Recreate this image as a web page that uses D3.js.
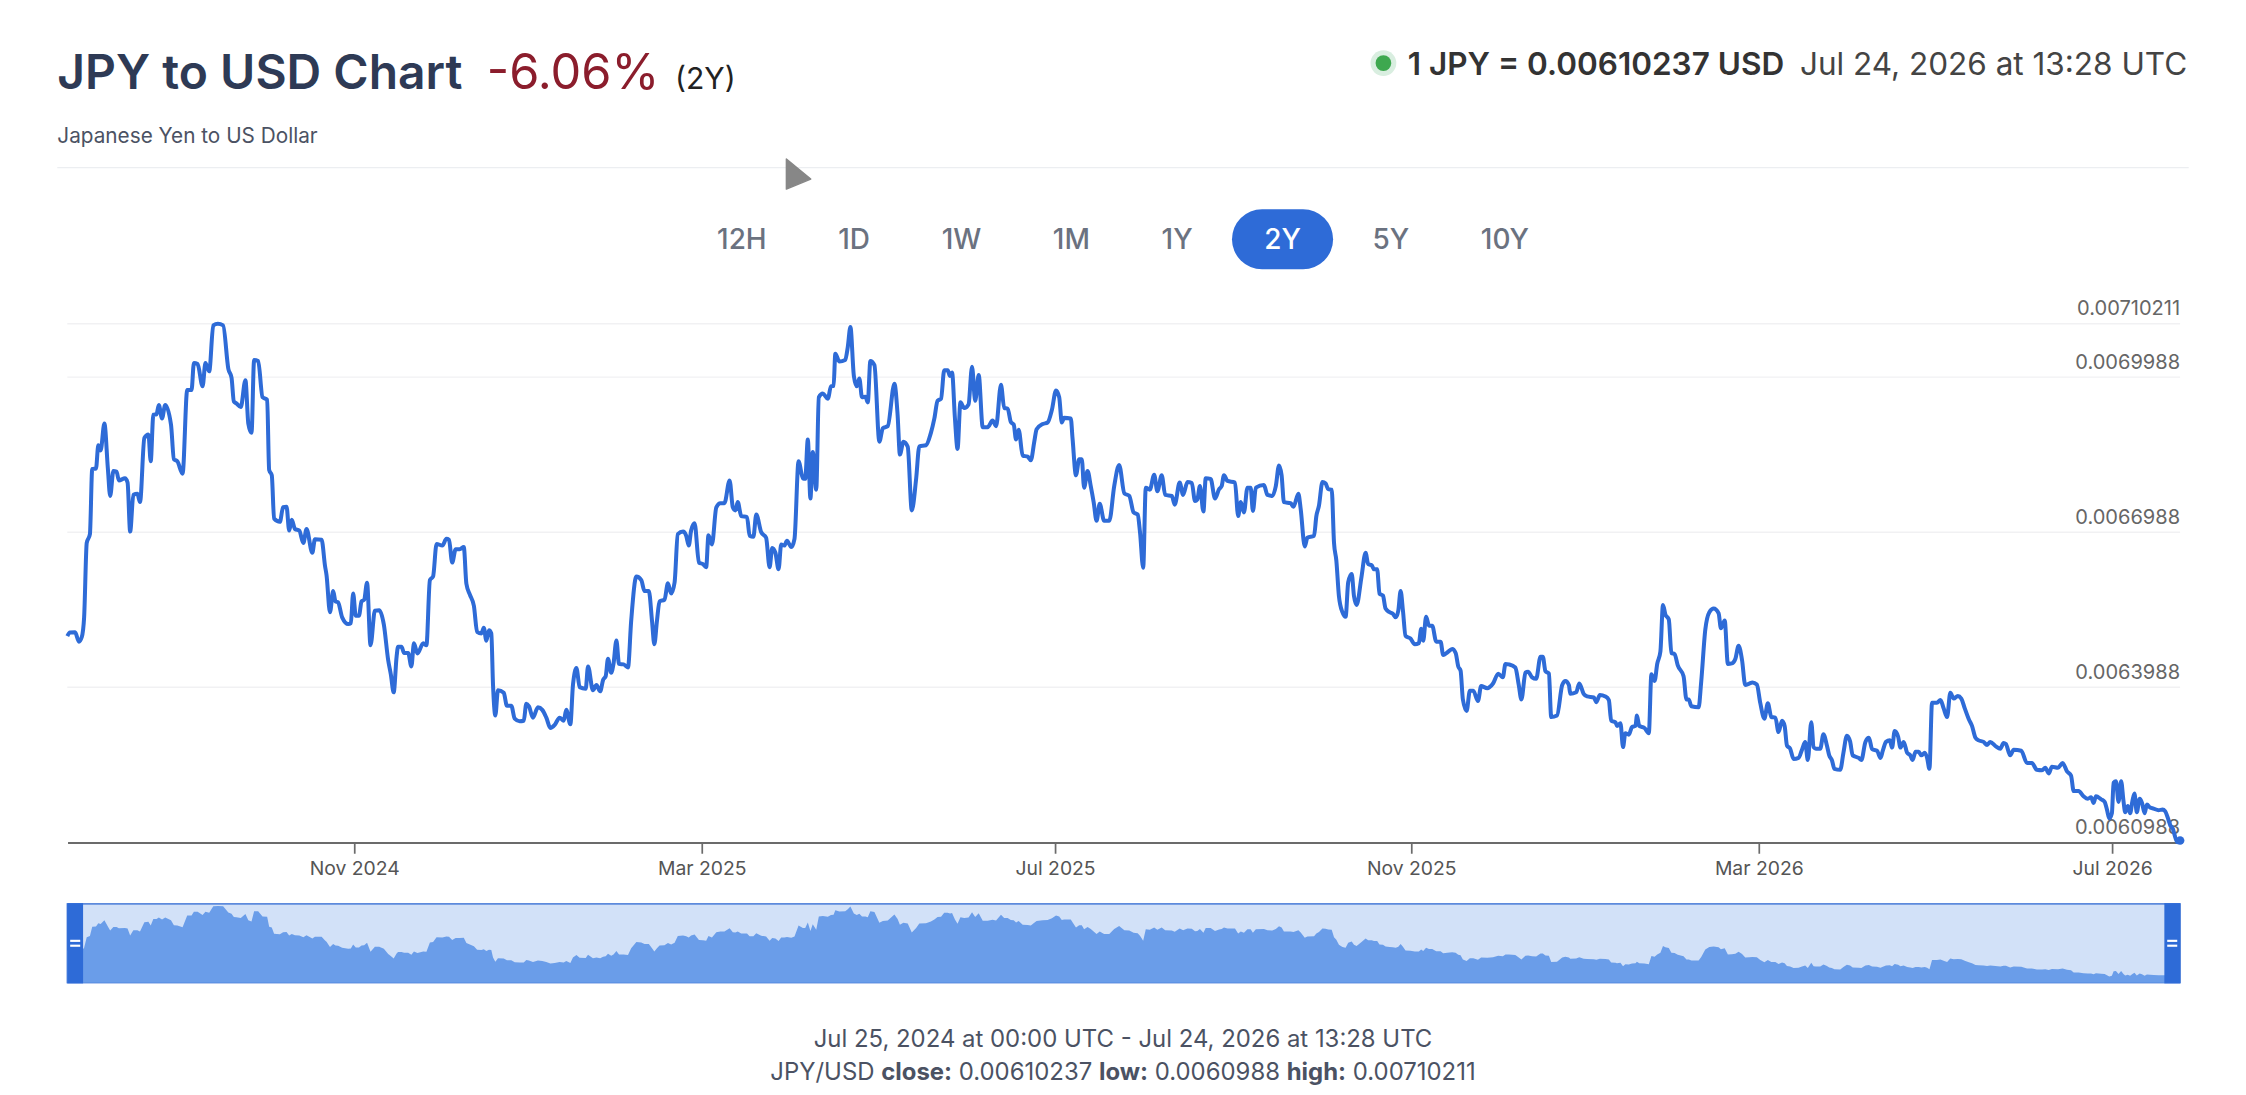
<!DOCTYPE html>
<html>
<head>
<meta charset="utf-8">
<script src="https://cdn.jsdelivr.net/npm/d3@7"></script>
<style>
html, body { margin: 0; padding: 0; background: #fff; }
svg { display: block; font-family: Inter, "Noto Sans", sans-serif; }
</style>
</head>
<body>
<svg id="chart" width="2246" height="1095"></svg>
<script>
"use strict";

var startDate = "2024-07-25T00:00:00Z";
var endDate = "2026-07-24T13:28:00Z";

// [days since Jul 25 2024, JPY in USD]
var ratesA = [
    [0, 0.0064979], [0.9, 0.0065048], [2.7, 0.006505], [4.0, 0.006487], [5.0, 0.006496], [5.8, 0.006534],
    [6.7, 0.006678], [7.8, 0.006695], [8.6, 0.006821], [9.9, 0.006822], [10.7, 0.006867], [11.5, 0.006857],
    [12.8, 0.006909], [14.0, 0.006822], [14.8, 0.006769], [15.9, 0.006817], [17.0, 0.006816], [17.8, 0.006799],
    [19.9, 0.006803], [20.8, 0.006795], [21.7, 0.0067], [22.8, 0.006771], [24.2, 0.006773], [25.1, 0.006757],
    [26.6, 0.006881], [28.0, 0.006888], [28.8, 0.006836], [29.7, 0.006926], [30.8, 0.006927], [31.6, 0.006945],
    [32.7, 0.006919], [33.8, 0.006945], [35.8, 0.006907], [36.8, 0.00684], [38.0, 0.006836], [39.8, 0.006812],
    [41.4, 0.006974], [42.9, 0.006974], [43.7, 0.007026], [45.0, 0.007024], [46.7, 0.006981], [47.7, 0.007026],
    [49.0, 0.00701], [50.4, 0.007099], [52.0, 0.00710211], [53.8, 0.007099], [55.6, 0.007015], [56.7, 0.006998],
    [57.5, 0.006952], [58.4, 0.006948], [59.9, 0.006941], [61.5, 0.006993], [62.5, 0.006909], [63.6, 0.006891],
    [64.5, 0.007032], [65.9, 0.00703], [67.4, 0.00696], [69.0, 0.006955], [69.7, 0.006819], [70.6, 0.006809],
    [71.4, 0.006725], [73.4, 0.006719], [74.5, 0.006747], [75.7, 0.006748], [76.6, 0.006702], [77.5, 0.006723],
    [78.6, 0.006705], [80.1, 0.006702], [81.5, 0.006678], [82.6, 0.006705], [84.6, 0.006659], [85.5, 0.006685],
    [87.8, 0.006684], [89.0, 0.006633], [89.5, 0.006616], [90.7, 0.006544], [91.8, 0.006585], [92.6, 0.006565],
    [93.5, 0.006563], [94.9, 0.006534], [97.0, 0.006521], [97.9, 0.006523], [98.7, 0.00658], [99.6, 0.006537],
    [100.7, 0.006537], [101.6, 0.006565], [102.5, 0.006568], [103.5, 0.006601], [104.7, 0.00648], [106.2, 0.006547],
    [107.7, 0.006548], [109.3, 0.00652], [110.8, 0.006451], [111.7, 0.006424], [112.7, 0.006389], [113.7, 0.006458],
    [114.2, 0.006477], [115.4, 0.006477], [116.3, 0.006465], [117.7, 0.006465], [118.8, 0.006439], [119.7, 0.006484],
    [120.9, 0.006464]
];
var ratesB = [
    [122.9, 0.006484], [124.0, 0.00648], [125.2, 0.006606], [126.3, 0.006613], [127.5, 0.006676], [129.5, 0.006673],
    [130.9, 0.006686], [131.8, 0.006684], [132.9, 0.00664], [134.1, 0.006666], [135.5, 0.006666], [136.9, 0.00667],
    [137.8, 0.006599], [139.0, 0.006578], [140.4, 0.006556], [141.5, 0.006506], [143.0, 0.006503], [143.8, 0.006514],
    [144.7, 0.006489], [145.6, 0.006509], [146.4, 0.006503], [147.0, 0.006403], [147.8, 0.006344], [148.7, 0.006393],
    [150.7, 0.006388], [151.8, 0.006363], [153.3, 0.006363], [154.5, 0.006338], [156.2, 0.006333], [157.6, 0.006334],
    [158.5, 0.006367], [159.4, 0.006362], [160.8, 0.00634], [162.5, 0.00636], [164.0, 0.006355], [165.4, 0.00634],
    [166.8, 0.00632], [168.3, 0.006326], [170.0, 0.00634], [171.4, 0.006334], [172.3, 0.006355], [173.7, 0.006327],
    [174.6, 0.006403], [175.8, 0.006436], [176.9, 0.006399], [179.0, 0.006396], [179.8, 0.006439], [181.5, 0.006393],
    [182.7, 0.006403], [184.0, 0.006391], [185.0, 0.006413], [185.9, 0.00642], [186.7, 0.006454], [187.8, 0.006427],
    [188.6, 0.006444], [189.6, 0.006489], [190.5, 0.006444], [192.1, 0.006443], [193.6, 0.006437], [194.7, 0.006527],
    [196.5, 0.006613], [198.2, 0.006606], [199.3, 0.006585], [200.8, 0.006585], [201.9, 0.006527], [202.7, 0.006482],
    [203.6, 0.006527], [204.5, 0.006565], [206.2, 0.006568], [207.4, 0.0066], [208.5, 0.00658], [209.7, 0.006602],
    [210.8, 0.006695], [212.6, 0.0067], [213.7, 0.006692], [214.6, 0.006673], [215.4, 0.006702], [216.6, 0.006716],
    [218.1, 0.00664], [219.5, 0.006637], [220.6, 0.006631], [221.4, 0.006693], [222.6, 0.006675], [224.1, 0.006747],
    [225.5, 0.006755], [226.9, 0.006755], [228.7, 0.006799], [229.8, 0.006747], [230.7, 0.006741], [231.5, 0.006757],
    [232.7, 0.00673], [234.7, 0.006728], [235.6, 0.006692], [236.9, 0.00669], [237.9, 0.006733], [239.6, 0.006699],
    [241.3, 0.006688], [242.5, 0.006631], [243.4, 0.006668], [244.5, 0.006659], [245.6, 0.006627], [246.5, 0.006675],
    [247.6, 0.006673], [248.5, 0.006682], [250.0, 0.00667], [251.1, 0.006686]
];
var ratesC = [
    [252.5, 0.006836], [254.0, 0.006803], [254.8, 0.006802], [255.7, 0.006878], [256.6, 0.006764], [257.4, 0.006854],
    [258.6, 0.006781], [259.5, 0.00696], [260.9, 0.006967], [262.6, 0.006957], [263.7, 0.006981], [264.6, 0.006982],
    [265.2, 0.007044], [266.6, 0.007029], [268.6, 0.007032], [269.5, 0.007057], [270.4, 0.007096], [271.6, 0.007001],
    [272.6, 0.006981], [273.5, 0.006996], [274.4, 0.00696], [275.6, 0.006961], [276.4, 0.00695], [277.3, 0.00703],
    [278.7, 0.007022], [280.4, 0.006874], [281.6, 0.0069], [283.3, 0.006904], [285.6, 0.006986], [286.7, 0.006926],
    [287.5, 0.006849], [288.7, 0.006874], [290.2, 0.006864], [291.6, 0.006741], [293.1, 0.006802], [294.2, 0.006865],
    [296.5, 0.006867], [298.2, 0.006891], [299.4, 0.006919], [300.5, 0.006953], [301.7, 0.006957], [302.8, 0.007012],
    [304.0, 0.007012], [304.8, 0.007001], [305.5, 0.007008], [306.5, 0.006919], [307.4, 0.00686], [308.4, 0.00695],
    [309.7, 0.006939], [311.2, 0.006946], [312.4, 0.007019], [313.5, 0.006953], [314.7, 0.007003], [316.1, 0.006902],
    [317.8, 0.006902], [319.5, 0.006915], [320.7, 0.006904], [322.4, 0.006984], [323.5, 0.006939], [324.7, 0.006938],
    [325.8, 0.006912], [326.8, 0.006907], [327.6, 0.006878], [328.5, 0.006897], [329.9, 0.006847], [331.6, 0.006845],
    [332.7, 0.006838], [333.9, 0.006874], [334.7, 0.006898], [336.8, 0.006908], [338.5, 0.006911], [340.0, 0.006936],
    [341.4, 0.006973], [342.5, 0.00696], [343.4, 0.006911], [344.2, 0.00692], [346.5, 0.006919], [347.1, 0.006881],
    [348.3, 0.006809], [349.4, 0.00684], [350.3, 0.00684], [351.1, 0.006785], [352.3, 0.006817], [353.4, 0.006788],
    [354.4, 0.006757], [355.4, 0.006721], [356.5, 0.006754], [358.0, 0.006721], [359.8, 0.006721], [361.5, 0.006788],
    [363.2, 0.006829], [365.0, 0.006774], [366.7, 0.006769], [368.2, 0.006737], [369.6, 0.006733], [370.4, 0.006699]
];
var ratesD = [
    [371.5, 0.00663], [372.4, 0.006785], [373.8, 0.006781], [375.3, 0.00681], [376.4, 0.006778], [377.9, 0.006809],
    [379.1, 0.006771], [381.4, 0.006769], [382.4, 0.006752], [384.1, 0.006795], [385.3, 0.006771], [386.8, 0.006796],
    [388.3, 0.006794], [389.4, 0.006759], [390.2, 0.006762], [391.1, 0.006788], [392.3, 0.006739], [393.1, 0.006803],
    [394.8, 0.006802], [396.3, 0.006764], [397.7, 0.006782], [398.6, 0.006788], [399.4, 0.006809], [400.6, 0.006798],
    [403.2, 0.006795], [404.3, 0.00673], [405.2, 0.006757], [406.3, 0.006737], [407.5, 0.006785], [408.6, 0.006785],
    [409.4, 0.00674], [410.4, 0.006785], [413.2, 0.00679], [414.4, 0.006771], [416.1, 0.006769], [417.3, 0.006788],
    [418.4, 0.006828], [419.3, 0.006809], [420.1, 0.006757], [422.4, 0.006755], [423.4, 0.006748], [425.1, 0.006773],
    [425.9, 0.006743], [427.3, 0.006671], [428.2, 0.006688], [430.5, 0.006692], [431.3, 0.00673], [432.2, 0.00675],
    [433.4, 0.006796], [434.5, 0.006793], [435.4, 0.006782], [436.6, 0.006781], [437.4, 0.006678], [438.2, 0.006644],
    [439.1, 0.006575], [440.3, 0.006544], [441.4, 0.006535], [442.3, 0.006602], [443.5, 0.006618], [444.3, 0.006575],
    [445.2, 0.006558], [446.9, 0.006613], [448.3, 0.006659], [449.2, 0.006637], [450.4, 0.006635], [451.2, 0.006627],
    [452.3, 0.006627], [453.1, 0.00658], [454.3, 0.006576], [455.2, 0.006551], [456.6, 0.006544], [457.7, 0.006541],
    [458.7, 0.006534], [459.6, 0.006547], [460.4, 0.006585], [461.2, 0.006547], [462.1, 0.006498], [463.8, 0.006493],
    [465.3, 0.006482], [466.7, 0.006484], [467.5, 0.006512], [468.2, 0.006489], [469.2, 0.006535], [470.2, 0.006518],
    [471.3, 0.006518], [472.7, 0.006487], [474.2, 0.006487], [475.1, 0.006461], [476.5, 0.006466], [478.2, 0.006473],
    [479.4, 0.006465], [480.3, 0.006439], [481.1, 0.006431], [481.9, 0.006375], [483.2, 0.006353], [484.3, 0.006392],
    [485.5, 0.006392], [487.1, 0.006372], [488.2, 0.006401], [490.3, 0.006397], [492.3, 0.006406], [494.1, 0.006425]
];
var ratesE = [
    [495.7, 0.006418], [496.6, 0.006444], [497.8, 0.006443], [500.0, 0.006437], [501.2, 0.006403], [502.1, 0.006375],
    [503.5, 0.006427], [504.4, 0.006429], [505.8, 0.006418], [507.2, 0.006415], [508.7, 0.006458], [509.5, 0.006458],
    [510.4, 0.00643], [511.6, 0.006425], [512.4, 0.006341], [514.4, 0.006344], [516.2, 0.006403], [517.3, 0.006411],
    [518.5, 0.006403], [519.0, 0.006386], [521.0, 0.006389], [522.1, 0.006406], [523.6, 0.006386], [524.8, 0.006381],
    [527.1, 0.006379], [528.0, 0.00637], [529.2, 0.006384], [531.1, 0.006381], [532.3, 0.006374], [533.1, 0.006334],
    [534.6, 0.006331], [535.1, 0.006324], [536.3, 0.006329], [537.2, 0.006283], [538.0, 0.00631], [539.2, 0.006307],
    [540.3, 0.006322], [541.5, 0.006324], [542.0, 0.006344], [542.8, 0.006324], [544.6, 0.00632], [546.1, 0.00631],
    [547.0, 0.006424], [548.1, 0.006411], [549.0, 0.006444], [550.1, 0.006468], [551.0, 0.006558], [551.8, 0.00654],
    [553.0, 0.00653], [553.9, 0.006465], [555.0, 0.006463], [556.1, 0.006441], [558.1, 0.00642], [559.1, 0.006375],
    [559.9, 0.006375], [560.8, 0.006362], [563.3, 0.00636], [564.2, 0.00641], [565.6, 0.00651], [567.0, 0.006544],
    [568.5, 0.006551], [570.2, 0.006542], [571.0, 0.006513], [572.3, 0.006528], [573.4, 0.006444], [574.8, 0.006445],
    [576.0, 0.006454], [577.1, 0.006479], [578.3, 0.006451], [579.4, 0.006403], [580.8, 0.006406], [581.9, 0.006408],
    [583.4, 0.006404], [584.6, 0.006368], [586.0, 0.006338], [587.2, 0.006368], [588.4, 0.006341], [589.8, 0.00634],
    [590.9, 0.006312], [592.1, 0.006334], [593.0, 0.006324], [593.8, 0.006286], [594.9, 0.00628], [596.1, 0.00626],
    [597.8, 0.006262], [599.0, 0.006278], [600.1, 0.006293], [601.0, 0.006258], [602.2, 0.006331], [603.0, 0.006283],
    [603.8, 0.00628], [605.3, 0.00628], [606.4, 0.006308], [607.6, 0.006286], [608.4, 0.006267], [609.3, 0.006258],
    [610.2, 0.006241], [612.2, 0.006239], [613.3, 0.006272], [614.5, 0.006305], [615.6, 0.006294], [616.5, 0.006267]
];
var ratesF = [
    [618.6, 0.006262], [619.5, 0.006258], [620.9, 0.006293], [622.1, 0.006301], [623.2, 0.006279], [624.9, 0.006276],
    [626.1, 0.006262], [626.9, 0.006276], [628.0, 0.006293], [629.3, 0.006296], [630.1, 0.006282], [631.0, 0.006314],
    [632.2, 0.006303], [633.0, 0.006282], [634.1, 0.006293], [635.3, 0.006272], [636.4, 0.006267], [637.2, 0.006258],
    [638.2, 0.006274], [639.3, 0.006274], [640.2, 0.006267], [641.4, 0.006272], [642.2, 0.006262], [643.0, 0.006241],
    [643.9, 0.006369], [645.6, 0.006369], [646.8, 0.006374], [647.9, 0.006358], [649.1, 0.006341], [650.2, 0.006388],
    [651.4, 0.006377], [652.8, 0.006382], [654.0, 0.006377], [655.2, 0.006358], [656.6, 0.006337], [657.7, 0.006324],
    [658.9, 0.006301], [660.0, 0.006296], [661.7, 0.006293], [662.9, 0.006287], [664.0, 0.006293], [665.8, 0.006285],
    [667.5, 0.00628], [668.6, 0.006291], [669.4, 0.006289], [670.9, 0.006267], [672.1, 0.006278], [674.7, 0.006276],
    [676.7, 0.006252], [678.4, 0.006252], [680.1, 0.006239], [681.9, 0.006238], [683.0, 0.006243], [684.2, 0.006232],
    [685.3, 0.006245], [687.4, 0.006243], [689.0, 0.006252], [690.5, 0.006236], [691.9, 0.006228], [692.8, 0.006198],
    [694.5, 0.006198], [696.2, 0.006188], [697.7, 0.006183], [698.8, 0.006186], [699.7, 0.006175], [700.5, 0.006188],
    [702.3, 0.006182], [703.5, 0.006177], [704.3, 0.006162], [705.1, 0.006145], [706.0, 0.006155], [706.6, 0.006214],
    [707.4, 0.006217], [708.3, 0.006177], [709.2, 0.006217], [710.0, 0.006179], [710.6, 0.006157], [711.5, 0.006169],
    [712.3, 0.006155], [713.1, 0.006179], [713.8, 0.006193], [714.6, 0.006157], [715.6, 0.006183], [716.4, 0.006175],
    [717.3, 0.006155], [718.1, 0.006172], [719.2, 0.006166], [720.4, 0.006164], [722.1, 0.006161], [723.5, 0.006162],
    [724.4, 0.006159], [725.6, 0.006141], [726.2, 0.006131], [727.0, 0.006126], [727.6, 0.006114], [728.6, 0.0060988],
    [729.56, 0.00610237]
];

var yTickValues = [0.0060988, 0.0063988, 0.0066988, 0.0069988, 0.00710211];
var xTickDates = ["2024-11-01", "2025-03-01", "2025-07-01", "2025-11-01", "2026-03-01", "2026-07-01"];
var rangeButtons = ["12H", "1D", "1W", "1M", "1Y", "2Y", "5Y", "10Y"];
var activeRange = "2Y";
var closeRate = 0.00610237, lowRate = 0.0060988, highRate = 0.00710211;
var changeLabel = "-6.06%";

var blue = "#2e6bd7";
var textGray = "#4b5263";

// drawn in a 1568-wide user space, scaled up to the page size
var svg = d3.select("#chart").attr("viewBox", "0 0 1568 764.4");
var plot = {left: 47, right: 1522, top: 226, bottom: 588};
var nav = {top: 631, bottom: 686};

var t0 = Date.parse(startDate);
var series = [].concat(ratesA, ratesB, ratesC, ratesD, ratesE, ratesF).map(function (p) {
    return {date: new Date(t0 + p[0] * 864e5), rate: p[1]};
});

var x = d3.scaleUtc()
    .domain([new Date(startDate), new Date(endDate)])
    .range([plot.left, plot.right]);
var y = d3.scaleLinear()
    .domain([lowRate, highRate])
    .range([plot.bottom, plot.top]);

// ---- header
var title = svg.append("text")
    .attr("x", 40).attr("y", 62)
    .attr("fill", "#2e3a55")
    .style("font-size", "33.5px").style("font-weight", 600);
title.append("tspan").text("JPY to USD Chart");
title.append("tspan").attr("dx", 17).attr("fill", "#8b1d2c").style("font-weight", 400).style("font-size", "34px").text(changeLabel);
title.append("tspan").attr("dx", 11).attr("fill", "#222").style("font-weight", 400).style("font-size", "21px").text("(2Y)");

svg.append("text")
    .attr("x", 40).attr("y", 100)
    .attr("fill", textGray)
    .style("font-size", "14.5px")
    .text("Japanese Yen to US Dollar");

var quote = svg.append("text")
    .attr("x", 1527).attr("y", 52)
    .attr("text-anchor", "end")
    .style("font-size", "22px");
quote.append("tspan").attr("fill", "#333").style("font-weight", 600).text("1 JPY = " + closeRate + " USD");
quote.append("tspan").attr("dx", 11).attr("fill", "#444").text(d3.utcFormat("%b %-d, %Y at %H:%M UTC")(new Date(endDate)));
var qb = quote.node().getBBox();
svg.append("circle").attr("cx", qb.x - 17).attr("cy", 44).attr("r", 9).attr("fill", "#d9eee0");
svg.append("circle").attr("cx", qb.x - 17).attr("cy", 44).attr("r", 5.5).attr("fill", "#3ea84f");

svg.append("line")
    .attr("x1", 40).attr("x2", 1528).attr("y1", 117).attr("y2", 117)
    .attr("stroke", "#eceef1").attr("stroke-width", 1);

// stray mouse pointer captured in the screenshot
svg.append("path")
    .attr("d", "M549,111 L566,125 L549,132 Z")
    .attr("fill", "#878787").attr("stroke", "#878787").attr("stroke-linejoin", "round");

// ---- range buttons
var btn = svg.append("g").selectAll("g").data(rangeButtons).join("g");
btn.append("rect")
    .attr("y", 146).attr("height", 42).attr("rx", 21)
    .attr("fill", function (d) { return d === activeRange ? blue : "none"; });
var btnText = btn.append("text")
    .attr("y", 174)
    .attr("text-anchor", "middle")
    .attr("fill", function (d) { return d === activeRange ? "#fff" : "#6b7280"; })
    .style("font-size", "19.5px").style("font-weight", 500)
    .text(function (d) { return d; });
var pad = 22.5, gap = 5, widths = [];
btnText.each(function () { widths.push(this.getComputedTextLength() + 2 * pad); });
var cx = 784 - (d3.sum(widths) + gap * (widths.length - 1)) / 2;
btn.each(function (d, i) {
    var g = d3.select(this);
    g.select("rect").attr("x", cx).attr("width", widths[i]);
    g.select("text").attr("x", cx + widths[i] / 2);
    cx += widths[i] + gap;
});

// ---- grid and y labels
var grid = svg.append("g");
grid.selectAll("line")
    .data(yTickValues.filter(function (v) { return v !== lowRate; }))
    .join("line")
    .attr("x1", plot.left).attr("x2", plot.right)
    .attr("y1", function (d) { return y(d); }).attr("y2", function (d) { return y(d); })
    .attr("stroke", "#f1f1f3");
grid.selectAll("text")
    .data(yTickValues)
    .join("text")
    .attr("x", plot.right).attr("y", function (d) { return y(d) - 6; })
    .attr("text-anchor", "end")
    .attr("fill", "#666")
    .style("font-size", "14px")
    .text(function (d) { return String(d); });

// ---- x axis
var xAxis = svg.append("g")
    .attr("transform", "translate(0," + plot.bottom + ")")
    .call(d3.axisBottom(x)
        .tickValues(xTickDates.map(function (s) { return new Date(s + "T00:00:00Z"); }))
        .tickFormat(d3.utcFormat("%b %Y"))
        .tickSize(8).tickSizeOuter(0).tickPadding(5));
xAxis.select(".domain").attr("stroke", "#6b6b6b").attr("stroke-width", 1.5);
xAxis.selectAll(".tick line").attr("stroke", "#6b6b6b").attr("stroke-width", 1.2);
xAxis.selectAll(".tick text")
    .attr("fill", "#555")
    .style("font-size", "13.5px").style("font-family", "Inter, sans-serif");

// ---- price line
svg.append("path")
    .datum(series)
    .attr("fill", "none")
    .attr("stroke", blue)
    .attr("stroke-width", 2.8)
    .attr("stroke-linejoin", "round")
    .attr("d", d3.line()
        .x(function (d) { return x(d.date); })
        .y(function (d) { return y(d.rate); })
        .curve(d3.curveMonotoneX));
var last = series[series.length - 1];
svg.append("circle").attr("cx", x(last.date)).attr("cy", y(last.rate)).attr("r", 3).attr("fill", blue);

// ---- navigator
var yNav = d3.scaleLinear().domain([lowRate, highRate]).range([nav.bottom - 2, nav.top + 1.5]);
var navG = svg.append("g");
navG.append("rect")
    .attr("x", plot.left).attr("y", nav.top)
    .attr("width", plot.right - plot.left).attr("height", nav.bottom - nav.top)
    .attr("fill", "#d2e1f8").attr("stroke", "#3f74d6").attr("stroke-width", 1);
navG.append("path")
    .datum(series)
    .attr("fill", "#6a9de9")
    .attr("d", d3.area()
        .x(function (d) { return x(d.date); })
        .y0(nav.bottom)
        .y1(function (d) { return yNav(d.rate); }));
[plot.left, plot.right - 11].forEach(function (hx) {
    navG.append("rect")
        .attr("x", hx).attr("y", nav.top - 0.5)
        .attr("width", 11).attr("height", nav.bottom - nav.top + 1)
        .attr("fill", blue);
    [-1.7, 1.7].forEach(function (dy) {
        navG.append("line")
            .attr("x1", hx + 2).attr("x2", hx + 9)
            .attr("y1", (nav.top + nav.bottom) / 2 + dy).attr("y2", (nav.top + nav.bottom) / 2 + dy)
            .attr("stroke", "#fff").attr("stroke-width", 1.5);
    });
});

// ---- footer
var fmt = d3.utcFormat("%b %-d, %Y at %H:%M UTC");
svg.append("text")
    .attr("x", 784).attr("y", 731)
    .attr("text-anchor", "middle")
    .attr("fill", textGray)
    .style("font-size", "16.7px")
    .text(fmt(new Date(startDate)) + " - " + fmt(new Date(endDate)));
var stats = svg.append("text")
    .attr("x", 784).attr("y", 754)
    .attr("text-anchor", "middle")
    .attr("fill", textGray)
    .style("font-size", "16.7px");
[["JPY/USD ", null], ["close:", closeRate], ["low:", lowRate], ["high:", highRate]].forEach(function (p) {
    if (p[1] === null) {
        stats.append("tspan").text(p[0]);
        return;
    }
    stats.append("tspan").style("font-weight", 700).text(p[0]);
    stats.append("tspan").text(" " + p[1] + " ");
});
</script>
</body>
</html>
